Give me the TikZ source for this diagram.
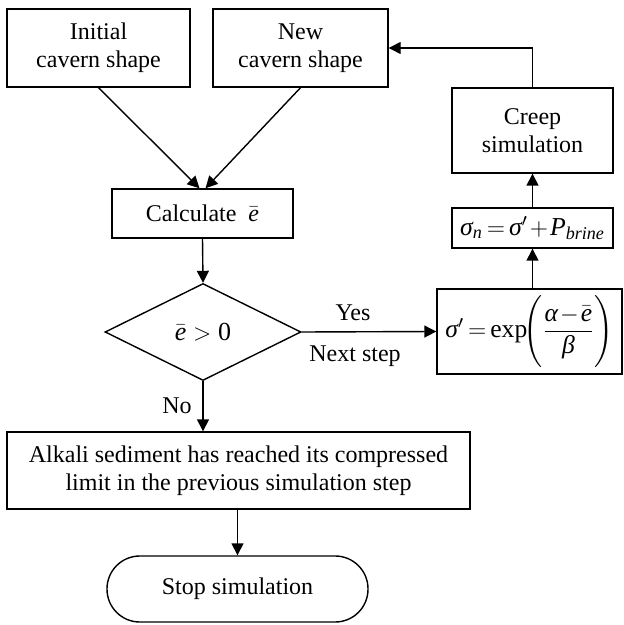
\documentclass[tikz,border=0pt]{standalone}
\usepackage{amsmath}
\usepackage{fontspec}
\setmainfont{Liberation Serif}
\usetikzlibrary{shapes.geometric,arrows.meta}
\newcommand{\ti}[1]{\text{\itshape #1}}
\newcommand{\tightmu}{\thickmuskip=3mu\relax\medmuskip=1.5mu\relax}
\begin{document}
\begin{tikzpicture}[x=0.5pt,y=-0.5pt,
  font=\fontsize{12}{14}\selectfont,
  box/.style={draw,line width=0.7pt,inner sep=0pt,align=center},
  decbox/.style={draw,line width=0.7pt,diamond,inner sep=0pt,aspect=2},
  arr/.style={line width=0.7pt,-{Triangle[length=6pt,width=6pt]}},
  lbl/.style={inner sep=0pt}]
\useasboundingbox (0,0) rectangle (623,625);
\node[box,minimum width=91.5pt,minimum height=39pt] (init) at (98.5,48) {Initial\\cavern shape};
\node[box,minimum width=87.5pt,minimum height=39pt] (new) at (300.5,48) {New\\cavern shape};
\node[box,minimum width=90.5pt,minimum height=24.5pt] (calc) at (202.5,213.5) {Calculate \ $\bar{\ti{e}}$};
\node[decbox,minimum width=98pt,minimum height=48.5pt,font=\fontsize{13}{15}\selectfont] (dec) at (203,332) {$\bar{\ti{e}}>\text{0}$};
\node[box,minimum width=231.5pt,minimum height=38.5pt] (alk) at (238.5,470.5) {Alkali sediment has reached its compressed\\limit in the previous simulation step};
\node[box,minimum width=130.5pt,minimum height=33pt,rounded corners=16.4pt] (stop) at (237.5,589) {Stop simulation};
\node[box,minimum width=80.5pt,minimum height=42.5pt] (creep) at (532.5,130.5) {Creep\\simulation};
\node[box,font=\fontsize{12.9}{15}\selectfont,minimum width=80.5pt,minimum height=20pt] (sn) at (532.5,228) {$\tightmu\ti{σ}_{\ti{n}}=\ti{σ}'+\ti{P}_{\ti{brine}}$};
\node[box,font=\fontsize{12.8}{15}\selectfont,minimum width=92.5pt,minimum height=42.5pt] (sp) at (529.5,331.5) {$\tightmu\ti{σ}'=\text{exp}\!\Biggl(\dfrac{\ti{α}-\bar{\ti{e}}}{\ti{β}}\Biggr)$};
\draw[arr] (init.south) -- ([xshift=-1.5pt]calc.north);
\draw[arr] (new.south) -- ([xshift=1.5pt]calc.north);
\draw[arr] (calc.south) -- (dec.north);
\draw[arr] (dec.east) -- (sp.west);
\node[lbl] (yes) at (353,313) {Yes};
\node[lbl] (next) at (355,356) {Next step};
\draw[arr] (dec.south) -- (alk.north -| dec.south);
\node[lbl] (no) at (177,406) {No};
\draw[arr] (alk.south -| stop.north) -- (stop.north);
\draw[arr] (sp.north -| sn.south) -- (sn.south);
\draw[arr] (sn.north) -- (creep.south);
\draw[arr] (creep.north) |- (new.east);
\end{tikzpicture}
\end{document}
